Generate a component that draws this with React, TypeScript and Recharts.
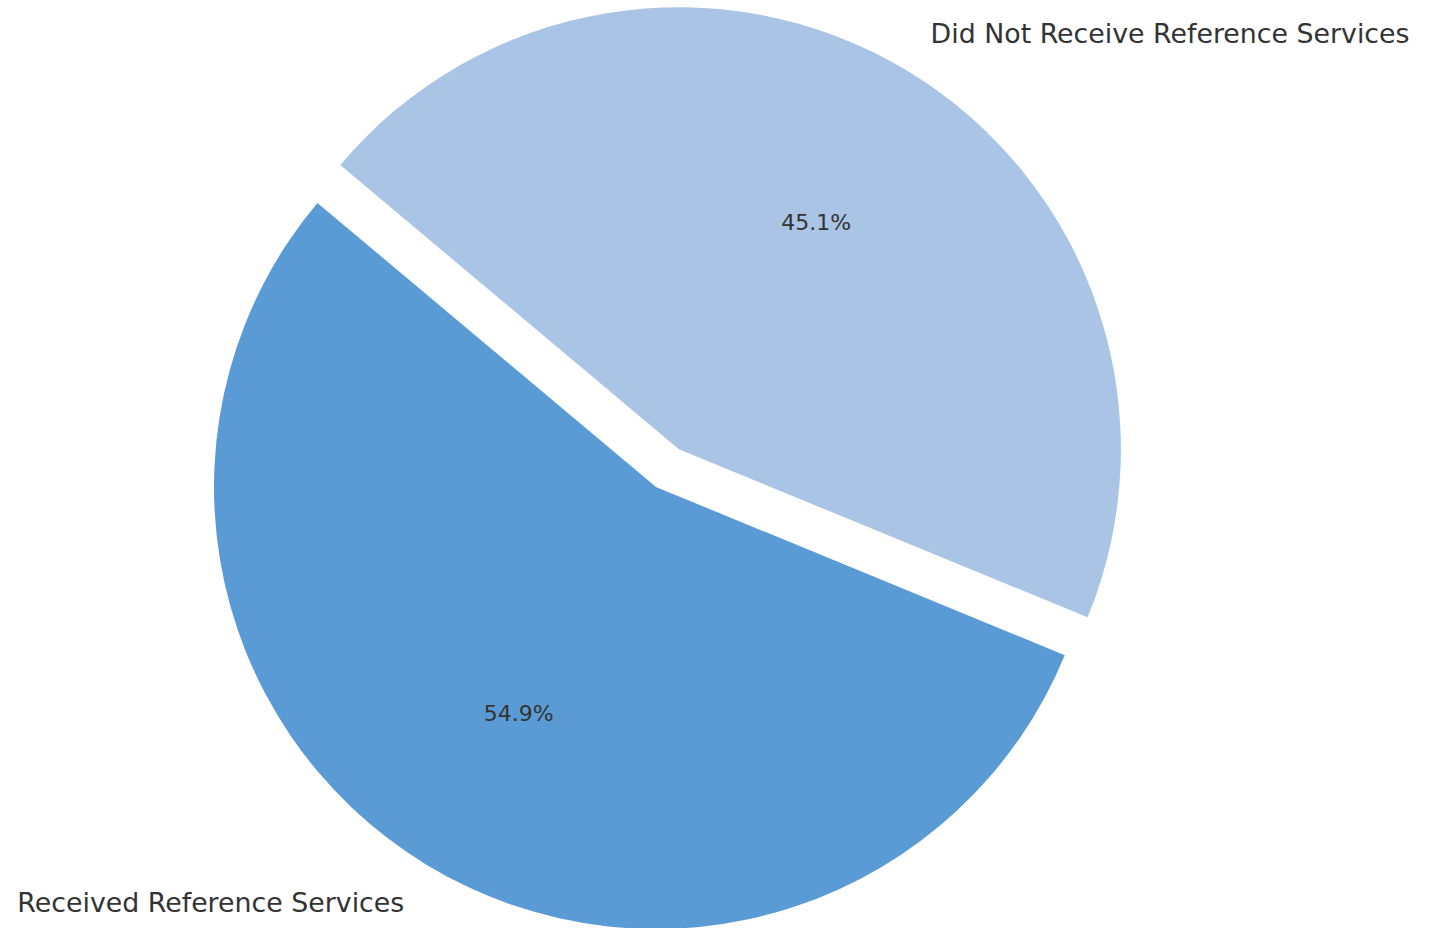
import { PieChart, Pie, Cell } from 'recharts';

// slice names, shares (%) and colours
const categories = ['Received Reference Services', 'Did Not Receive Reference Services'];
const shares = [54.9, 45.1];
const colors = ['#5b9bd5', '#aac4e5'];
const explode = [0, 0.1];

const W = 1440;
const H = 928;
const CX = 656;
const CY = 487;
const R = 442;
const START = 140;
const RAD = Math.PI / 180;
const FONT = '"DejaVu Sans", sans-serif';

const total = shares.reduce((a, b) => a + b, 0);

let acc = START;
const slices = categories.map((name, i) => {
  const sweep = (360 * shares[i]) / total;
  const start = acc;
  const end = acc + sweep;
  acc = end;
  const mid = (start + end) / 2;
  const off = explode[i] * R;
  return {
    name,
    value: shares[i],
    color: colors[i],
    start,
    end,
    mid,
    cx: CX + off * Math.cos(mid * RAD),
    cy: CY - off * Math.sin(mid * RAD),
  };
});

const makeLabel = (s: (typeof slices)[number]) => () => {
  const c = Math.cos(s.mid * RAD);
  const sn = Math.sin(s.mid * RAD);
  return (
    <g>
      <text
        x={s.cx + 0.6 * R * c}
        y={s.cy - 0.6 * R * sn}
        textAnchor="middle"
        dominantBaseline="central"
        fill="#333333"
        fontSize={22}
        fontFamily={FONT}
      >
        {((100 * s.value) / total).toFixed(1)}%
      </text>
      <text
        x={s.cx + 1.1 * R * c}
        y={s.cy - 1.1 * R * sn}
        textAnchor={c < 0 ? 'end' : 'start'}
        dominantBaseline="central"
        fill="#333333"
        fontSize={26.8}
        fontFamily={FONT}
      >
        {s.name}
      </text>
    </g>
  );
};

export default function App() {
  return (
    <div style={{ position: 'absolute', left: 0, top: 0, width: W, height: H, background: '#fff' }}>
      <PieChart width={W} height={H} margin={{ top: 0, right: 0, bottom: 0, left: 0 }}>
        {slices.map((s) => (
          <Pie
            key={s.name}
            data={[s]}
            dataKey="value"
            nameKey="name"
            cx={s.cx}
            cy={s.cy}
            outerRadius={R}
            innerRadius={0}
            startAngle={s.start}
            endAngle={s.end}
            stroke="none"
            label={makeLabel(s)}
            labelLine={false}
            isAnimationActive={false}
          >
            <Cell fill={s.color} />
          </Pie>
        ))}
      </PieChart>
    </div>
  );
}
